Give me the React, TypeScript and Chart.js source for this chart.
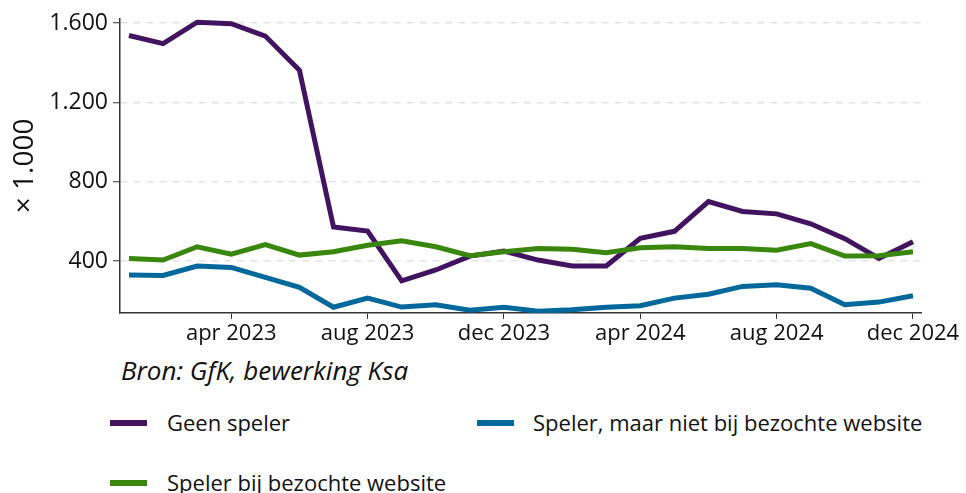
import React, { useEffect, useRef } from "react";
import { Chart, registerables } from "chart.js";

Chart.register(...registerables);

const months = [
  "jan 2023", "feb 2023", "mrt 2023", "apr 2023", "mei 2023", "jun 2023",
  "jul 2023", "aug 2023", "sep 2023", "okt 2023", "nov 2023", "dec 2023",
  "jan 2024", "feb 2024", "mrt 2024", "apr 2024", "mei 2024", "jun 2024",
  "jul 2024", "aug 2024", "sep 2024", "okt 2024", "nov 2024", "dec 2024",
];
const xTickMonths = ["apr 2023", "aug 2023", "dec 2023", "apr 2024", "aug 2024", "dec 2024"];
const yTicks = [400, 800, 1200, 1600];

const geenSpeler = [1538, 1497, 1605, 1597, 1535, 1363, 572, 551, 300, 355, 425, 450, 405, 375, 375, 515, 550, 700, 650, 638, 588, 513, 413, 497];
const spelerNietBij = [330, 327, 375, 368, 318, 268, 167, 213, 168, 180, 152, 167, 147, 155, 167, 175, 213, 233, 272, 280, 263, 180, 193, 225];
const spelerBij = [413, 405, 472, 435, 483, 430, 447, 480, 502, 472, 427, 447, 463, 460, 442, 467, 472, 463, 463, 455, 488, 425, 427, 447];

const seriesNames = ["Geen speler", "Speler, maar niet bij bezochte website", "Speler bij bezochte website"];
const source = "Bron: GfK, bewerking Ksa";
const yTitle = "× 1.000";

const PURPLE = "#42145f";
const BLUE = "#01689b";
const GREEN = "#39870c";
const TEXT = "#111111";
const FONT = "'Open Sans', 'Noto Sans', sans-serif";

function fmt(v: number): string {
  return String(v).replace(/\B(?=(\d{3})+(?!\d))/g, ".");
}

export default function App() {
  const ref = useRef<HTMLCanvasElement | null>(null);

  useEffect(() => {
    if (!ref.current) return;
    const toPts = (arr: number[]) => arr.map((v, i) => ({ x: i, y: v }));
    const chart = new Chart(ref.current, {
      type: "line",
      data: {
        datasets: [
          { label: seriesNames[0], data: toPts(geenSpeler), borderColor: PURPLE, backgroundColor: PURPLE, order: 2 },
          { label: seriesNames[1], data: toPts(spelerNietBij), borderColor: BLUE, backgroundColor: BLUE, order: 1 },
          { label: seriesNames[2], data: toPts(spelerBij), borderColor: GREEN, backgroundColor: GREEN, order: 0 },
        ],
      },
      options: {
        responsive: false,
        animation: false,
        events: [],
        layout: { padding: { top: 17, right: 45, bottom: 0, left: 0 } },
        elements: {
          line: { borderWidth: 5, tension: 0, borderJoinStyle: "miter", borderCapStyle: "butt" },
          point: { radius: 0 },
        },
        plugins: { legend: { display: false }, tooltip: { enabled: false } },
        scales: {
          x: {
            type: "linear",
            min: -0.264,
            max: 23.235,
            afterBuildTicks: (scale: any) => {
              scale.ticks = xTickMonths.map((m) => ({ value: months.indexOf(m) }));
            },
            afterFit: (scale: any) => {
              scale.height = 32;
            },
            ticks: {
              autoSkip: false,
              maxRotation: 0,
              padding: 2,
              color: TEXT,
              font: { family: FONT, size: 22 },
              callback: (v: any) => months[Math.round(Number(v))],
            },
            grid: { drawOnChartArea: false, drawTicks: true, tickLength: 6, tickColor: "#333", tickWidth: 1 },
            border: { display: true, color: "#333", width: 1.5 },
          },
          y: {
            type: "linear",
            min: 138,
            max: 1622,
            afterBuildTicks: (scale: any) => {
              scale.ticks = yTicks.map((v) => ({ value: v }));
            },
            afterFit: (scale: any) => {
              scale.width = 120;
            },
            ticks: {
              padding: 5,
              color: TEXT,
              font: { family: FONT, size: 23 },
              callback: (v: any) => fmt(Number(v)),
            },
            grid: {
              drawOnChartArea: true,
              color: "#e4e4e4",
              lineWidth: 1.5,
              tickLength: 7,
              tickColor: "#333",
              tickWidth: 1,
              tickBorderDash: [],
            },
            border: { display: true, color: "#333", width: 1.5, dash: [7, 6] },
            title: {
              display: true,
              text: yTitle,
              color: TEXT,
              font: { family: FONT, size: 28, weight: "normal" },
              padding: { top: 8, bottom: 0 },
            },
          },
        },
      },
    });
    return () => chart.destroy();
  }, []);

  const legendItem = (color: string, label: string, left: number, top: number, textLeft: number) => (
    <div key={label}>
      <div style={{ position: "absolute", left, top: top - 3, width: 37, height: 6, background: color }} />
      <div
        style={{
          position: "absolute",
          left: textLeft,
          top: top - 11 - 1,
          fontFamily: FONT,
          fontSize: 22,
          lineHeight: "22px",
          color: TEXT,
          whiteSpace: "nowrap",
        }}
      >
        {label}
      </div>
    </div>
  );

  return (
    <div style={{ position: "absolute", left: 0, top: 0, width: 966, height: 493, background: "#fff", overflow: "hidden" }}>
      <canvas ref={ref} width={966} height={345} style={{ position: "absolute", left: 0, top: 0, display: "block" }} />
      <div
        style={{
          position: "absolute",
          left: 121,
          top: 357,
          fontFamily: FONT,
          fontStyle: "italic",
          fontSize: 26,
          lineHeight: "26px",
          color: TEXT,
          whiteSpace: "nowrap",
        }}
      >
        {source}
      </div>
      {legendItem(PURPLE, seriesNames[0], 110, 423, 167)}
      {legendItem(BLUE, seriesNames[1], 477, 423, 533)}
      {legendItem(GREEN, seriesNames[2], 110, 483, 167)}
    </div>
  );
}
